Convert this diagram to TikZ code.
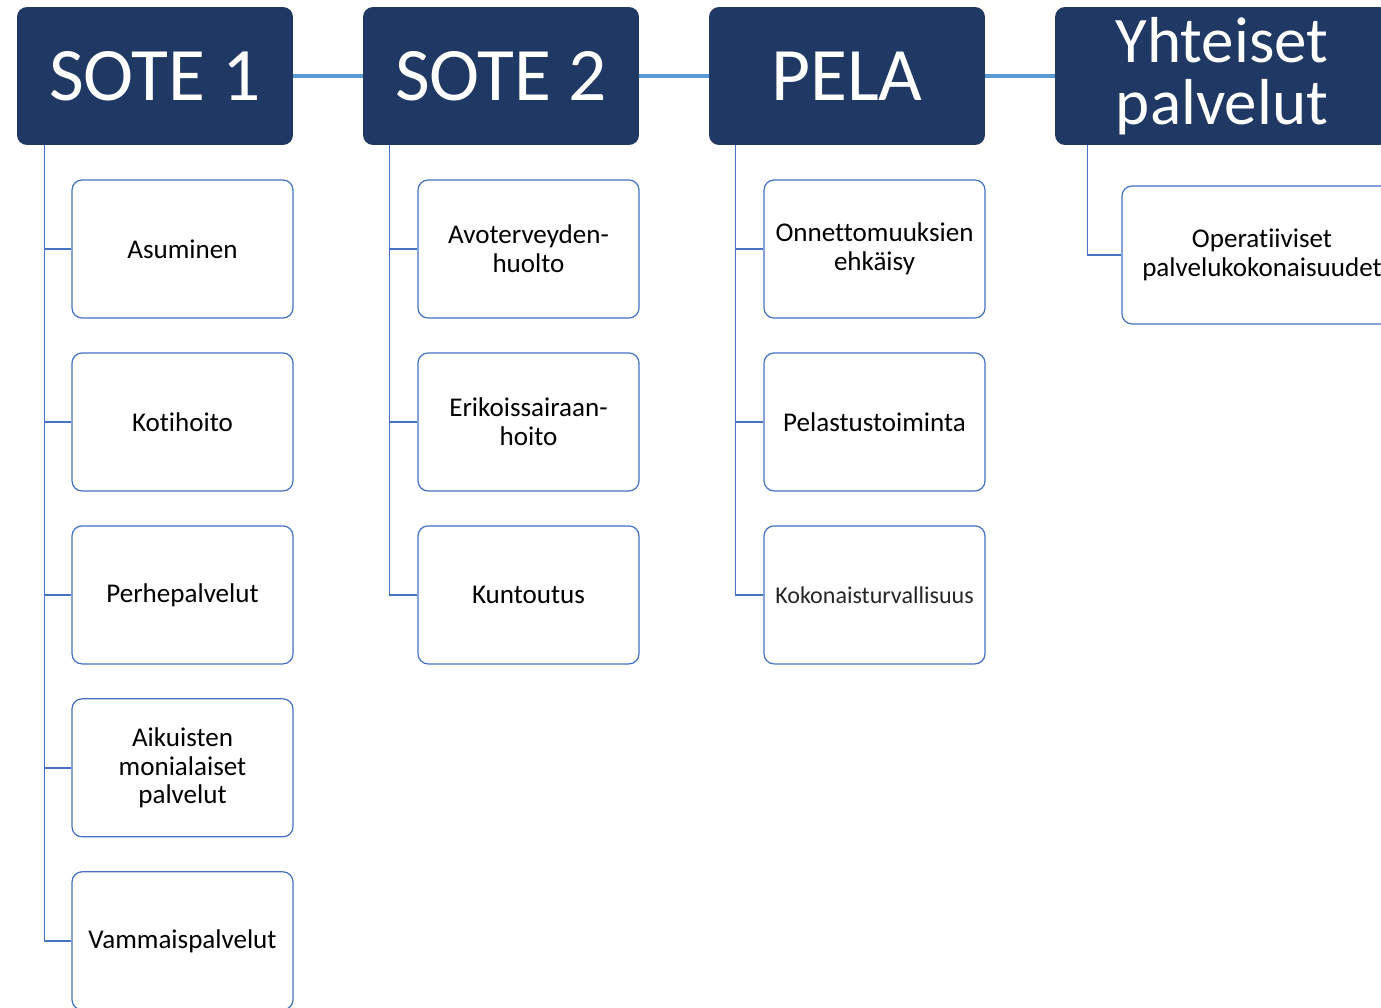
\documentclass[tikz,border=0pt]{standalone}
\usepackage{fontspec}
\setmainfont{Carlito}[Ligatures=NoCommon]
\usepackage{xcolor}
\usetikzlibrary{positioning}
\definecolor{headblue}{HTML}{203864}
\definecolor{boxblue}{HTML}{4472C4}
\definecolor{linkblue}{HTML}{5B9BD5}

\begin{document}
\begin{tikzpicture}[x=0.02cm, y=-0.02cm,
  header/.style={fill=headblue, text=white, rounded corners=0.2cm, minimum width=5.52cm, minimum height=2.76cm, inner sep=0pt, align=center, font=\fontsize{43}{43}\selectfont},
  item/.style={draw=boxblue, line width=0.7pt, fill=white, rounded corners=0.2cm, minimum width=4.42cm, minimum height=2.76cm, inner sep=2pt, align=center, font=\fontsize{15.4}{16.4}\selectfont},
  branch/.style={draw=boxblue, line width=0.9pt},
  link/.style={draw=linkblue, line width=2.3pt}]
\clip (0,0) rectangle (1381,1007);
% headers
\node[header] (s1) at (155,76) {SOTE 1};
\node[header] (s2) at (501,76) {SOTE 2};
\node[header] (pela) at (847,76) {PELA};
\node[header, minimum width=6.68cm, font=\fontsize{37}{37.5}\selectfont] (yht) at (1222,76) {\raisebox{-2pt}{Yhteiset}\\palvelut};
\draw[link] (s1.east) -- (s2.west);
\draw[link] (s2.east) -- (pela.west);
\draw[link] (pela.east) -- (yht.west);
% SOTE 1
\node[item] (asu) at (182.5,249) {Asuminen};
\node[item, below=0.675cm of asu] (koti) {Kotihoito};
\node[item, below=0.675cm of koti] (perhe) {Perhepalvelut};
\node[item, below=0.675cm of perhe] (aik) {Aikuisten\\monialaiset\\palvelut};
\node[item, below=0.675cm of aik] (vamma) {Vammaispalvelut};
\draw[branch] ([xshift=0.56cm]s1.south west) |- (asu.west);
\draw[branch] ([xshift=0.56cm]s1.south west) |- (koti.west);
\draw[branch] ([xshift=0.56cm]s1.south west) |- (perhe.west);
\draw[branch] ([xshift=0.56cm]s1.south west) |- (aik.west);
\draw[branch] ([xshift=0.56cm]s1.south west) |- (vamma.west);
% SOTE 2
\node[item] (avo) at (528.5,249) {Avoterveyden-\\huolto};
\node[item, below=0.675cm of avo] (erik) {Erikoissairaan-\\hoito};
\node[item, below=0.675cm of erik] (kunt) {Kuntoutus};
\draw[branch] ([xshift=0.54cm]s2.south west) |- (avo.west);
\draw[branch] ([xshift=0.54cm]s2.south west) |- (erik.west);
\draw[branch] ([xshift=0.54cm]s2.south west) |- (kunt.west);
% PELA
\node[item] (onn) at (874.5,249) {Onnettomuuksien\\ehkäisy};
\node[item, below=0.675cm of onn] (pelas) {Pelastustoiminta};
\node[item, below=0.675cm of pelas, text={black!85}, font=\fontsize{13.7}{16}\selectfont] (koko) {Kokonaisturvallisuus};
\draw[branch] ([xshift=0.54cm]pela.south west) |- (onn.west);
\draw[branch] ([xshift=0.54cm]pela.south west) |- (pelas.west);
\draw[branch] ([xshift=0.54cm]pela.south west) |- (koko.west);
% Yhteiset palvelut
\node[item, minimum width=5.6cm] (oper) at (1262,255) {Operatiiviset\\palvelukokonaisuudet};
\draw[branch] ([xshift=0.66cm]yht.south west) |- (oper.west);
\end{tikzpicture}
\end{document}
